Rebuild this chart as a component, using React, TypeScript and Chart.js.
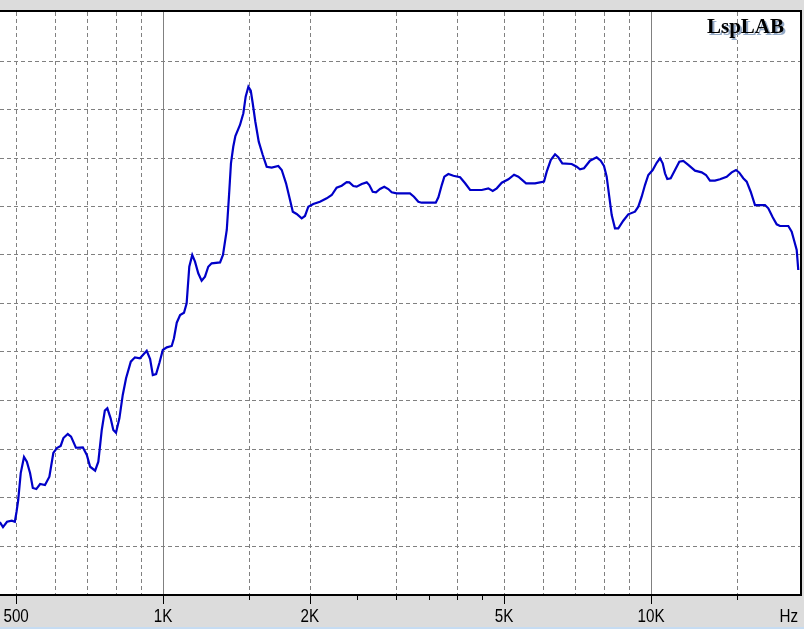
import React, { useEffect, useRef } from "react";
import { Chart, registerables } from "chart.js";

Chart.register(...registerables);

// Frequency response (Hz, dB)
const freqHz = [
  463, 470, 479, 490, 497, 501, 505, 511, 519, 526, 534, 541, 550, 560, 573, 585, 596, 606, 617, 625,
  638, 648, 663, 685, 698, 709, 726, 737, 749, 760, 769, 781, 791, 801, 814, 827, 840, 859, 876, 897,
  926, 941, 953, 968, 983, 999, 1018, 1042, 1053, 1067, 1084, 1104, 1118, 1132, 1148, 1163, 1181, 1200, 1219, 1238,
  1258, 1309, 1327, 1351, 1365, 1378, 1393, 1407, 1438, 1461, 1477, 1496, 1513, 1527, 1546, 1571, 1601, 1631, 1670, 1723,
  1751, 1787, 1821, 1845, 1879, 1924, 1954, 1985, 2032, 2097, 2165, 2217, 2269, 2324, 2379, 2409, 2455, 2494, 2554, 2615,
  2647, 2690, 2732, 2784, 2841, 2895, 2942, 3012, 3207, 3268, 3336, 3389, 3622, 3667, 3726, 3772, 3844, 3936, 4063, 4160,
  4259, 4500, 4642, 4739, 4830, 4945, 5102, 5241, 5348, 5546, 5786, 6037, 6114, 6231, 6359, 6457, 6580, 6879, 7042, 7153,
  7290, 7499, 7739, 7887, 8011, 8113, 8213, 8308, 8437, 8570, 8774, 8984, 9272, 9419, 9570, 9720, 9874, 10081, 10273, 10433,
  10568, 10684, 10800, 10975, 11200, 11429, 11647, 11923, 12307, 12702, 12962, 13209, 13523, 13848, 14292, 14634, 14934, 15167, 15456, 15707,
  16007, 16335, 17124, 17394, 17758, 18097, 18379, 19116, 19423, 19634, 19888, 20036,
];
const levelDb = [
  47.4, 46.9, 47.45, 47.56, 47.45, 48.48, 49.69, 52.47, 54.12, 53.64, 52.47, 50.93, 50.82, 51.34, 51.24, 52.09, 54.54, 55.05, 55.26, 56.08,
  56.49, 56.22, 55.08, 55.12, 54.33, 53.12, 52.71, 53.64, 56.91, 58.9, 59.14, 58.11, 56.91, 56.63, 58.11, 60.52, 62.24, 63.95, 64.4, 64.3,
  65.08, 64.23, 62.58, 62.68, 63.81, 65.15, 65.43, 65.57, 66.36, 67.97, 68.76, 69.0, 69.97, 73.74, 74.95, 74.26, 73.06, 72.3, 72.71, 73.74,
  74.09, 74.18, 74.95, 77.53, 80.96, 84.4, 86.11, 87.22, 88.35, 89.56, 91.27, 92.3, 91.89, 90.59, 88.69, 86.63, 85.26, 84.05, 83.95, 84.12,
  83.71, 82.34, 80.62, 79.41, 79.18, 78.73, 78.97, 79.93, 80.21, 80.44, 80.79, 81.13, 81.89, 82.09, 82.47, 82.44, 82.06, 81.99, 82.27, 82.44,
  82.16, 81.47, 81.41, 81.75, 81.99, 81.75, 81.41, 81.31, 81.31, 80.96, 80.44, 80.34, 80.34, 80.9, 82.16, 83.02, 83.3, 83.12, 82.96, 82.34,
  81.65, 81.65, 81.82, 81.55, 81.82, 82.4, 82.75, 83.23, 83.02, 82.34, 82.34, 82.51, 83.54, 84.74, 85.33, 85.02, 84.4, 84.33, 84.05, 83.78,
  83.89, 84.67, 85.02, 84.67, 84.12, 83.02, 80.96, 79.07, 77.7, 77.7, 78.48, 79.14, 79.41, 79.93, 80.96, 82.16, 83.2, 83.71, 84.46, 84.92,
  84.4, 83.37, 82.78, 82.86, 83.71, 84.57, 84.64, 84.23, 83.64, 83.47, 83.2, 82.61, 82.61, 82.75, 83.02, 83.47, 83.71, 83.43, 82.86, 82.51,
  81.47, 80.1, 80.1, 79.76, 78.83, 78.11, 77.94, 77.94, 77.35, 76.49, 75.46, 73.4,
];

const xMin = 463.4;
const xMax = 20200;
const yMin = 40;
const yMax = 100;
const yGridValues = [45, 50, 55, 60, 65, 70, 75, 80, 85, 90, 95];
const dashedGridHz = [500, 600, 700, 800, 900, 1500, 2000, 3000, 4000, 5000, 6000, 7000, 8000, 9000, 15000];
const solidGridHz = [1000, 10000];
const majorTickHz = [500, 1000, 2000, 5000, 10000];
const majorTickLabels = ["500", "1K", "2K", "5K", "10K"];
const minorTickHz = [1500, 2500, 3000, 3500, 4000, 4500, 15000];
const unitLabel = "Hz";
const brandLabel = "LspLAB";

const framePlugin = {
  id: "lspFrame",
  beforeDraw(chart: any) {
    const { ctx, width, height, chartArea } = chart;
    ctx.save();
    ctx.fillStyle = "#dcdcdc";
    ctx.fillRect(0, 0, width, height);
    ctx.fillStyle = "#ffffff";
    ctx.fillRect(chartArea.left, chartArea.top, chartArea.right - chartArea.left, chartArea.bottom - chartArea.top);
    ctx.fillStyle = "#c6dcf2";
    ctx.fillRect(0, height - 2, width, 2);
    ctx.restore();
  },
  beforeDatasetsDraw(chart: any) {
    const { ctx, chartArea, scales } = chart;
    const xs = scales.x;
    const ys = scales.y;
    ctx.save();
    ctx.strokeStyle = "#808080";
    ctx.lineWidth = 1;
    ctx.setLineDash([4, 3]);
    for (const v of yGridValues) {
      const y = Math.round(ys.getPixelForValue(v)) + 0.5;
      ctx.beginPath();
      ctx.moveTo(chartArea.left, y);
      ctx.lineTo(chartArea.right, y);
      ctx.stroke();
    }
    for (const v of dashedGridHz) {
      const x = Math.round(xs.getPixelForValue(v)) + 0.5;
      ctx.beginPath();
      ctx.moveTo(x, chartArea.top);
      ctx.lineTo(x, chartArea.bottom);
      ctx.stroke();
    }
    ctx.setLineDash([]);
    for (const v of solidGridHz) {
      const x = Math.round(xs.getPixelForValue(v)) + 0.5;
      ctx.beginPath();
      ctx.moveTo(x, chartArea.top);
      ctx.lineTo(x, chartArea.bottom);
      ctx.stroke();
    }
    ctx.restore();
  },
  afterDraw(chart: any) {
    const { ctx, chartArea, scales } = chart;
    const xs = scales.x;
    ctx.save();
    // frame
    ctx.fillStyle = "#000000";
    ctx.fillRect(0, chartArea.top - 2, chartArea.right + 2, 2);
    ctx.fillRect(chartArea.right, chartArea.top - 2, 2, chartArea.bottom - chartArea.top + 4);
    ctx.fillRect(0, chartArea.bottom, chartArea.right + 2, 2);
    // ticks
    ctx.strokeStyle = "#000000";
    ctx.lineWidth = 1;
    for (const v of majorTickHz) {
      const x = Math.round(xs.getPixelForValue(v)) + 0.5;
      ctx.beginPath();
      ctx.moveTo(x, chartArea.bottom + 2);
      ctx.lineTo(x, chartArea.bottom + 10);
      ctx.stroke();
    }
    for (const v of minorTickHz) {
      const x = Math.round(xs.getPixelForValue(v)) + 0.5;
      ctx.beginPath();
      ctx.moveTo(x, chartArea.bottom + 2);
      ctx.lineTo(x, chartArea.bottom + 6);
      ctx.stroke();
    }
    // labels
    ctx.fillStyle = "#000000";
    ctx.font = "19px 'Liberation Sans', Arial, sans-serif";
    ctx.textBaseline = "alphabetic";
    const baseY = chartArea.bottom + 28;
    const sx = 0.8;
    majorTickHz.forEach((v, i) => {
      const x = xs.getPixelForValue(v);
      ctx.save();
      ctx.translate(x, baseY);
      ctx.scale(sx, 1);
      ctx.textAlign = "center";
      ctx.fillText(majorTickLabels[i], 0, 0);
      ctx.restore();
    });
    ctx.save();
    ctx.translate(chartArea.right - 2, baseY);
    ctx.scale(sx, 1);
    ctx.textAlign = "right";
    ctx.fillText(unitLabel, 0, 0);
    ctx.restore();
    // brand
    ctx.font = "bold 21px 'Liberation Serif', 'Times New Roman', serif";
    ctx.textAlign = "right";
    ctx.fillStyle = "#93a9c6";
    ctx.fillText(brandLabel, chartArea.right - 14, chartArea.top + 23);
    ctx.fillStyle = "#000000";
    ctx.fillText(brandLabel, chartArea.right - 16, chartArea.top + 21);
    ctx.restore();
  },
};

export default function App() {
  const canvasRef = useRef<HTMLCanvasElement | null>(null);

  useEffect(() => {
    document.body.style.margin = "0";
    const canvas = canvasRef.current;
    if (!canvas) return;
    const points = freqHz.map((f, i) => ({ x: f, y: levelDb[i] }));
    const chart = new Chart(canvas, {
      type: "line",
      data: {
        datasets: [
          {
            data: points,
            borderColor: "#0000c8",
            borderWidth: 2.2,
            pointRadius: 0,
            tension: 0,
            fill: false,
          },
        ],
      },
      options: {
        animation: false,
        responsive: false,
        devicePixelRatio: 1,
        layout: { padding: { left: 0, right: 4, top: 12, bottom: 35 } },
        scales: {
          x: { type: "logarithmic", min: xMin, max: xMax, display: false },
          y: { type: "linear", min: yMin, max: yMax, display: false },
        },
        plugins: { legend: { display: false }, tooltip: { enabled: false } },
        events: [],
      },
      plugins: [framePlugin],
    });
    return () => chart.destroy();
  }, []);

  return (
    <div style={{ position: "absolute", left: 0, top: 0, width: 804, height: 629 }}>
      <canvas ref={canvasRef} width={804} height={629} style={{ display: "block" }} />
    </div>
  );
}
